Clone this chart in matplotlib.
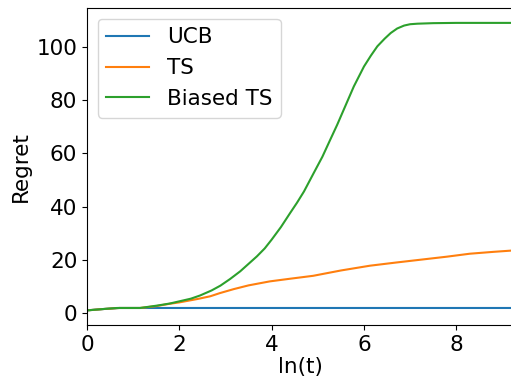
import matplotlib
matplotlib.use("Agg")
from matplotlib import pyplot as plt

# ln(t) sample points and regret
x_ucb = [0.0, 0.35, 0.7, 9.25]
ucb = [1.0, 1.5, 1.9, 1.9]

x_ts = [0.0, 0.35, 0.7, 1.15, 1.5, 1.8, 2.0, 2.4, 2.67, 2.88, 3.18, 3.5, 3.96, 4.4,
        4.9, 5.5, 6.13, 6.7, 7.2, 7.8, 8.29, 8.8, 9.21]
ts = [1.0, 1.5, 1.9, 1.9, 2.6, 3.5, 4.0, 5.3, 6.3, 7.5, 9.0, 10.4, 11.9, 12.9,
      14.0, 16.0, 17.8, 19.0, 20.0, 21.2, 22.3, 23.0, 23.5]

x_bts = [0.0, 0.35, 0.65, 1.15, 1.52, 1.8, 2.0, 2.25, 2.45, 2.7, 2.89, 3.1, 3.32, 3.5,
         3.68, 3.85, 4.0, 4.2, 4.4, 4.55, 4.7, 4.91, 5.1, 5.27, 5.42, 5.56, 5.78, 6.0,
         6.15, 6.29, 6.45, 6.58, 6.72, 6.87, 7.0, 7.16, 7.5, 8.0, 9.21]
bts = [1.0, 1.5, 1.9, 1.9, 2.8, 3.6, 4.4, 5.4, 6.6, 8.5, 10.3, 12.8, 15.7, 18.5,
       21.3, 24.3, 27.6, 32.3, 37.6, 41.5, 45.7, 52.6, 58.8, 65.2, 70.8, 76.4, 85.2, 92.7,
       96.8, 100.3, 103.2, 105.3, 107.0, 108.1, 108.6, 108.8, 109.0, 109.1, 109.1]

plt.rcParams['font.size'] = 15.5

fig = plt.figure(figsize=(5.11, 3.81), dpi=100)
ax = fig.add_axes([87 / 511, 56 / 381, 427 / 511, 317 / 381])

ax.plot(x_ucb, ucb, label='UCB')
ax.plot(x_ts, ts, label='TS')
ax.plot(x_bts, bts, label='Biased TS')

ax.set_xlim(0, 9.25)
ax.set_ylim(-4.5, 114.7)
ax.set_xticks([0, 2, 4, 6, 8])
ax.set_yticks([0, 20, 40, 60, 80, 100])
ax.set_xlabel('ln(t)', labelpad=2)
ax.set_ylabel('Regret')
ax.legend(loc='upper left')

fig.savefig('out.png', dpi=100)
